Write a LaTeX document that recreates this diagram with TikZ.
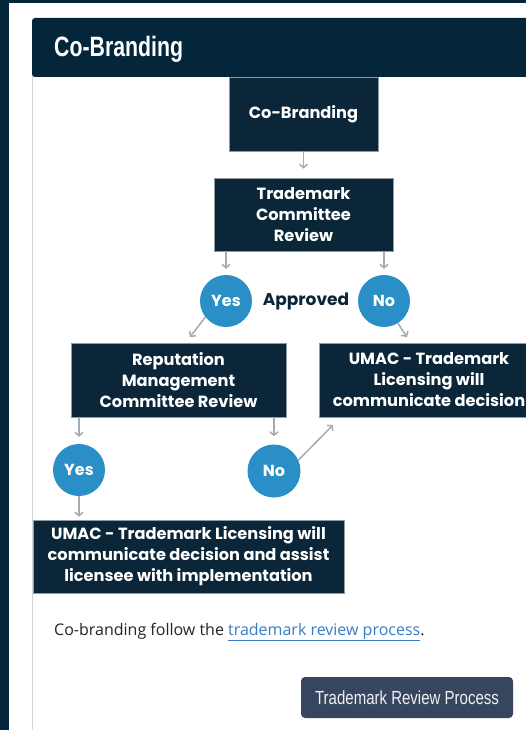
\documentclass[tikz,border=0pt]{standalone}
\usepackage{fontspec}
\usetikzlibrary{arrows.meta}
\setmainfont{Open Sans}
\newfontfamily\boxfont{Poppins}
\newfontfamily\headfont{Liberation Sans}[FakeStretch=0.76]
\newfontfamily\btnfont{Liberation Sans}[FakeStretch=0.79]

\definecolor{pagenavy}{HTML}{03263A}
\definecolor{boxnavy}{HTML}{0A2638}
\definecolor{dotblue}{HTML}{2A8FC6}
\definecolor{arrowgray}{HTML}{A6ABAF}
\definecolor{cardline}{HTML}{D3D7DA}
\definecolor{boxline}{HTML}{8E99A2}
\definecolor{bodytext}{HTML}{212529}
\definecolor{linkblue}{HTML}{3A7CC4}
\definecolor{btnfill}{HTML}{38455F}
\definecolor{btntext}{HTML}{EEF0F5}

\tikzset{
  stepbox/.style={rectangle, fill=boxnavy, draw=boxline, line width=0.6pt,
    text=white, align=center, inner sep=0pt,
    font=\boxfont\bfseries\fontsize{16.2}{21}\selectfont},
  answer/.style={circle, fill=dotblue, draw=none, minimum size=52pt, inner sep=0pt,
    text=white, font=\boxfont\bfseries\fontsize{16}{18}\selectfont},
  flow/.style={draw=arrowgray, line width=1.5pt,
    -{Straight Barb[length=3.5pt,width=8pt,line width=1.5pt]}},
}

\begin{document}
\begin{tikzpicture}[x=1pt, y=-1pt]
  % page and card
  \useasboundingbox (0,0) rectangle (526,730);
  \fill[pagenavy] (0,0) rectangle (526,730);
  \fill[white] (9,3) rectangle (526,730);
  \draw[cardline, line width=1pt] (32.5,70) -- (32.5,730);
  \fill[pagenavy, rounded corners=3pt] (32,77) -- (32,18) -- (530,18) -- (530,77) -- cycle;
  \node[anchor=base west, inner sep=0pt, text=white,
        font=\headfont\bfseries\fontsize{28}{30}\selectfont] (title) at (54,57) {Co-Branding};

  % process boxes
  \node[stepbox, minimum width=149pt, minimum height=74pt] (start) at (303.5,114) {Co-Branding};
  \node[stepbox, minimum width=179pt, minimum height=73pt] (tmc) at (303.5,214.5)
    {Trademark\\Committee\\Review};
  \node[stepbox, minimum width=215pt, minimum height=74pt] (rmc) at (178.5,380)
    {Reputation\\Management\\Committee Review};
  \node[stepbox, minimum width=220pt, minimum height=74pt] (umacno) at (429,380)
    {UMAC - Trademark\\Licensing will\\communicate decision};
  \node[stepbox, minimum width=311pt, minimum height=73pt] (umacyes) at (188.5,556.5)
    {UMAC - Trademark Licensing will\\communicate decision and assist\\licensee with implementation};

  % decision dots
  \node[answer] (yesA) at (226,301) {Yes};
  \node[answer] (noA) at (384,301) {No};
  \node[text=boxnavy, font=\boxfont\bfseries\fontsize{17}{19}\selectfont] (approved) at (306,301) {Approved};
  \node[answer] (yesB) at (79,470) {Yes};
  \node[answer, minimum size=53pt] (noB) at (274,471) {No};

  % free arrow ends
  \coordinate (toRmc) at (190,337);
  \coordinate (toUmacA) at (407,337);
  \coordinate (toUmacB) at (333,425);

  % connectors
  \draw[flow, shorten >=9pt] (start) -- (tmc);
  \draw[flow, shorten >=6pt] (yesA |- tmc.south) -- (yesA.north);
  \draw[flow, shorten >=6pt] (noA |- tmc.south) -- (noA.north);
  \draw[flow] (yesA.218) -- (toRmc);
  \draw[flow] (noA.-58) -- (toUmacA);
  \draw[flow, shorten >=7pt] (yesB |- rmc.south) -- (yesB.north);
  \draw[flow, shorten >=8pt] (noB |- rmc.south) -- (noB.north);
  \draw[flow] (noB.24) -- (toUmacB);
  \draw[flow, shorten >=3pt] (yesB.south) -- (yesB |- umacyes.north);

  % note and button
  \node[anchor=base west, inner sep=0pt, text=bodytext, font=\fontsize{16}{20}\selectfont] (note) at (54,635)
    {Co-branding follow the {\color{linkblue}\underline{trademark review process}}.};
  \node[rectangle, rounded corners=4pt, fill=btnfill, minimum width=212pt, minimum height=41pt,
        text=btntext, font=\btnfont\fontsize{19}{21}\selectfont] (button) at (407,697.5)
    {Trademark Review Process};
\end{tikzpicture}
\end{document}
